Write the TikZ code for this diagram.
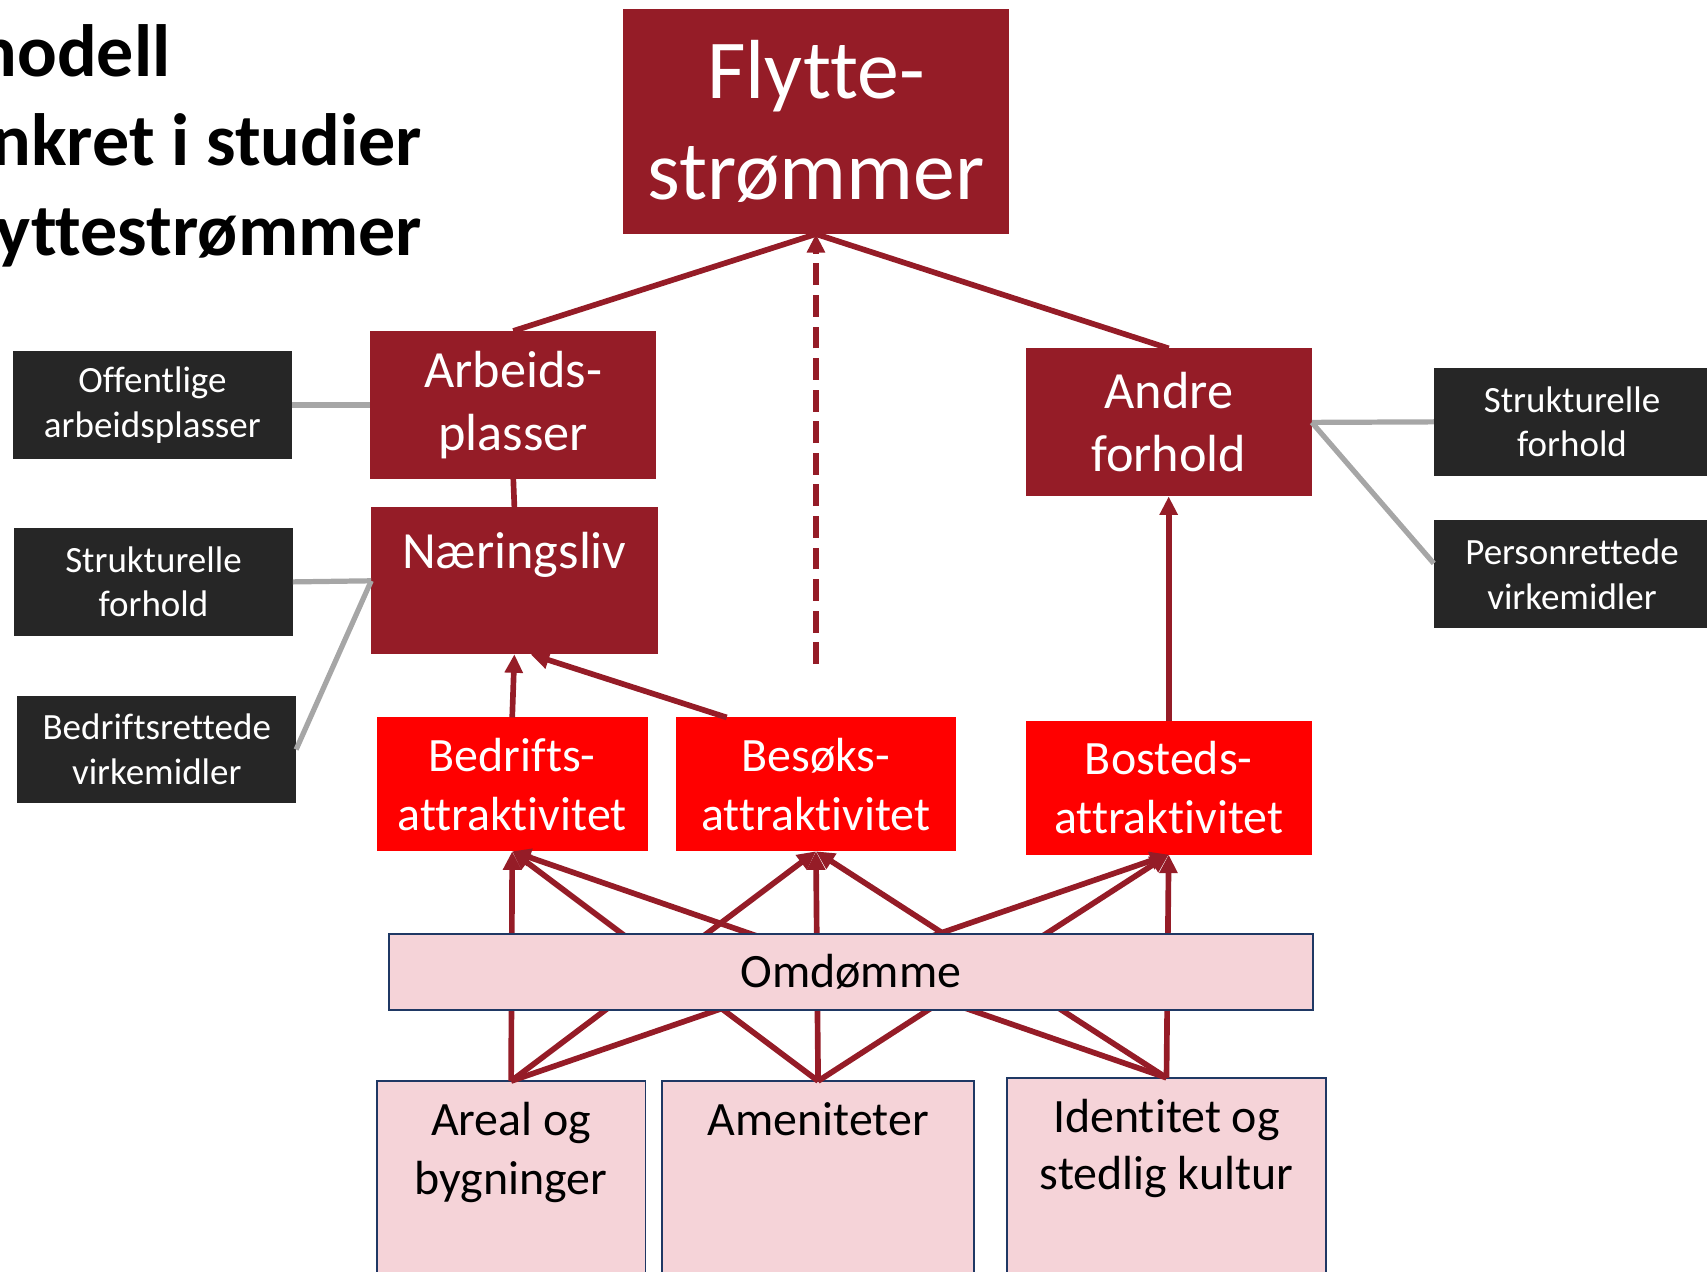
\documentclass[tikz,border=0pt]{standalone}
\usepackage{fontspec}
\setmainfont{Carlito}[Ligatures={NoCommon}]
\usetikzlibrary{arrows.meta,calc}
\definecolor{dred}{HTML}{951C27}
\definecolor{bred}{HTML}{FF0000}
\definecolor{dgray}{HTML}{262626}
\definecolor{lgray}{HTML}{A6A6A6}
\definecolor{pinkf}{HTML}{F5D3D8}
\definecolor{navy}{HTML}{1F3864}
\begin{document}
\begin{tikzpicture}[x=0.5pt,y=-0.5pt,
  box/.style={rectangle, inner sep=0pt, outer sep=0pt, align=center, text=white},
  dbox/.style={box, fill=dred, font=\fontsize{24}{29}\selectfont},
  rbox/.style={box, fill=bred, font=\fontsize{22}{27}\selectfont},
  kbox/.style={box, fill=dgray, font=\fontsize{17}{20.5}\selectfont},
  pbox/.style={box, fill=pinkf, draw=navy, line width=0.8pt, text=black, font=\fontsize{22}{27}\selectfont},
  ptxt/.style={inner sep=0pt, anchor=base, text=black, font=\fontsize{22}{27}\selectfont},
  wtxt/.style={inner sep=0pt, anchor=base, text=white, font=\fontsize{24}{29}\selectfont},
  ttl/.style={inner sep=0pt, anchor=base east, font=\bfseries\fontsize{34}{41}\selectfont},
  conn/.style={draw=dred, line width=2.6pt},
  arr/.style={conn, -{Triangle[length=8.5pt,width=8pt]}},
  glink/.style={draw=lgray, line width=2.4pt}]
\useasboundingbox (0,0) rectangle (1568,1168);
\clip (0,0) rectangle (1568,1168);

% title (cut off at left)
\node[ttl] (t1) at (157,70) {nodell};
\node[ttl] (t2) at (388,152) {nkret i studier};
\node[ttl] (t3) at (388,235) {yttestrømmer};

% top level
\node[box, fill=dred, minimum width=177.5pt, minimum height=103.5pt,
      font=\fontsize{38.5}{46.5}\selectfont] (fly) at (749.5,111.5) {Flytte-\\strømmer};

% second level
\node[dbox, minimum width=131.5pt, minimum height=68pt] (arb) at (471.5,372) {Arbeids-\\plasser};
\node[dbox, minimum width=131.5pt, minimum height=67.5pt] (naer) at (472.5,533.5) {};
\node[wtxt] (naert) at (472.5,522) {Næringsliv};
\node[dbox, minimum width=131.5pt, minimum height=68pt] (andre) at (1073.5,388) {Andre\\forhold};

% policy boxes
\node[kbox, minimum width=128pt, minimum height=50pt] (off) at (140,372) {Offentlige\\arbeidsplasser};
\node[kbox, minimum width=128pt, minimum height=49.5pt] (strl) at (141,534.5) {Strukturelle\\forhold};
\node[kbox, minimum width=128pt, minimum height=49.5pt] (bedv) at (144,688.5) {Bedriftsrettede\\virkemidler};
\node[kbox, minimum width=127pt, minimum height=49.5pt] (strr) at (1444,387.5) {Strukturelle\\forhold};
\node[kbox, minimum width=127pt, minimum height=49.5pt] (pers) at (1444,527.5) {Personrettede\\virkemidler};

% attractiveness boxes
\node[rbox, minimum width=124.5pt, minimum height=61.5pt] (bedr) at (470.5,720.5) {Bedrifts-\\attraktivitet};
\node[rbox, minimum width=128.5pt, minimum height=61.5pt] (besk) at (749.5,720.5) {Besøks-\\attraktivitet};
\node[rbox, minimum width=131.5pt, minimum height=61.5pt] (bost) at (1073.5,723.5) {Bosteds-\\attraktivitet};

% bottom boxes
\node[pbox, minimum width=123.5pt, minimum height=98.5pt] (areal) at (469.5,1091.5) {};
\node[pbox, minimum width=143.5pt, minimum height=98.5pt] (amen) at (751.5,1091.5) {};
\node[pbox, minimum width=146.5pt, minimum height=100pt] (ident) at (1071.5,1090) {};
\node[ptxt] (arealt1) at (469.5,1043) {Areal og};
\node[ptxt] (arealt2) at (469.5,1097) {bygninger};
\node[ptxt] (ament) at (751.5,1043) {Ameniteter};
\node[ptxt] (identt1) at (1071.5,1040) {Identitet og};
\node[ptxt] (identt2) at (1071.5,1093) {stedlig kultur};

% grey links
\draw[glink] (off.east) -- (arb.west);
\draw[glink] (strl.east) -- (naer.west);
\draw[glink] (bedv.east) -- (naer.west);
\draw[glink] (andre.east) -- (strr.west);
\draw[glink] (andre.east) -- ([yshift=5pt]pers.west);

% red connectors
\coordinate (dashend) at (749.5,610);
\draw[conn] (arb.north) -- (fly.south);
\draw[conn] (andre.north) -- (fly.south);
\draw[arr, dash pattern=on 10pt off 4.5pt] (dashend) -- (fly.south);
\draw[conn] (arb.south) -- (naer.north);
\draw[arr] (bedr.north) -- (naer.south);
\draw[arr] ([xshift=-41pt]besk.north) -- ([xshift=7.5pt]naer.south);
\draw[arr] (bost.north) -- (andre.south);

\foreach \s in {areal,amen,ident}{
  \foreach \t in {bedr,besk,bost}{
    \draw[arr] (\s.north) -- (\t.south);
  }
}

% reputation bar on top of the links
\node[pbox, minimum width=424.5pt, minimum height=35pt] (omd) at (781.5,893) {Omdømme};
\end{tikzpicture}
\end{document}
